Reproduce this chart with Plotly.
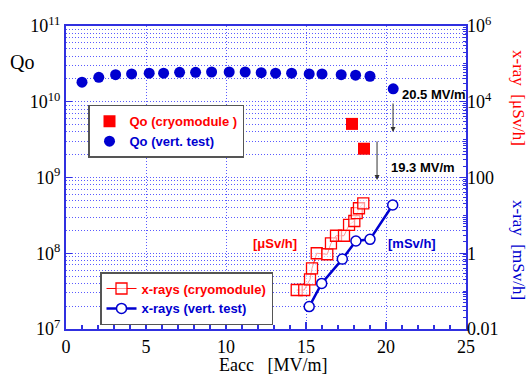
import plotly.graph_objects as go

# ---------------- data ----------------
qo_vt_x = [1.0, 2.05, 3.1, 4.1, 5.2, 6.1, 7.1, 8.1, 9.1, 10.2, 11.2, 12.2, 13.1, 14.1, 15.2, 16.0, 17.2, 18.1, 19.0, 20.45]
qo_vt_y = [1.81e10, 2.10e10, 2.28e10, 2.33e10, 2.38e10, 2.38e10, 2.45e10, 2.45e10, 2.47e10, 2.47e10,
           2.47e10, 2.42e10, 2.38e10, 2.38e10, 2.33e10, 2.33e10, 2.28e10, 2.24e10, 2.17e10, 1.48e10]

qo_cm_x = [17.875, 18.625]
qo_cm_y = [5.1e9, 2.4e9]

xr_cm_x = [14.42, 14.89, 15.25, 15.375, 15.67, 16.33, 16.56, 16.875, 17.375, 17.69, 18.02, 18.17, 18.31, 18.58]
xr_cm_y = [0.107, 0.107, 0.205, 0.40, 1.0, 0.94, 1.83, 2.9, 2.9, 5.6, 7.1, 11.4, 15.4, 20.8]

xr_vt_x = [15.2, 15.98, 17.27, 18.12, 19.0, 20.42]
xr_vt_y = [0.039, 0.16, 0.70, 2.1, 2.33, 18.8]

left_tickvals = [1e7, 1e8, 1e9, 1e10, 1e11]
left_ticktext = ["10<sup>7</sup>", "10<sup>8</sup>", "10<sup>9</sup>", "10<sup>10</sup>", "10<sup>11</sup>"]
right_tickvals = [0.01, 1, 100, 1e4, 1e6]
right_ticktext = ["0.01", "1", "100", "10<sup>4</sup>", "10<sup>6</sup>"]

RED = "#ff0000"
BLUE = "#0000d0"
SERIF = "Liberation Serif"
SANS = "Liberation Sans"

fig = go.Figure()

fig.add_trace(go.Scatter(
    x=qo_cm_x, y=qo_cm_y, mode="markers",
    name="<span style='color:#ff0000'>Qo (cryomodule )</span>",
    marker=dict(symbol="square", size=12, color=RED),
    legend="legend", legendgroup="a"))
fig.add_trace(go.Scatter(
    x=qo_vt_x, y=qo_vt_y, mode="markers",
    name="<span style='color:#0000d0'>Qo (vert. test)</span>",
    marker=dict(symbol="circle", size=11, color=BLUE),
    legend="legend", legendgroup="b"))

fig.add_trace(go.Scatter(
    x=xr_cm_x, y=xr_cm_y, mode="lines+markers", yaxis="y2",
    name="<span style='color:#ff0000'>x-rays (cryomodule)</span>",
    line=dict(color=RED, width=1),
    marker=dict(symbol="square", size=11, color="rgba(255,255,255,0.6)",
                line=dict(color=RED, width=1.3)),
    legend="legend2", legendgroup="c"))
fig.add_trace(go.Scatter(
    x=xr_vt_x, y=xr_vt_y, mode="lines+markers", yaxis="y2",
    name="<span style='color:#0000d0'>x-rays (vert. test)</span>",
    line=dict(color=BLUE, width=2.5),
    marker=dict(symbol="circle", size=10, color="white",
                line=dict(color=BLUE, width=1.5)),
    legend="legend2", legendgroup="d"))

grid_col = "#5a5aff"
grid_dash = "1px,2px"
frame_col = "#3030e0"

fig.update_layout(
    width=529, height=374,
    margin=dict(l=66, r=63, t=26, b=45),
    paper_bgcolor="white", plot_bgcolor="white",
    font=dict(family=SERIF, size=17, color="black"),
    xaxis=dict(
        range=[0, 25], dtick=5, tick0=0,
        showline=True, linecolor=frame_col, linewidth=2, mirror=True,
        ticks="inside", ticklen=7, tickcolor=frame_col, tickwidth=1.5,
        showgrid=True, gridcolor=grid_col, griddash=grid_dash, gridwidth=1,
        zeroline=False,
        tickfont=dict(family=SERIF, size=18, color="black"),
        minor=dict(dtick=1, ticks="inside", ticklen=4, tickcolor=frame_col, showgrid=False),
    ),
    yaxis=dict(
        type="log", range=[7, 11],
        tickmode="array", tickvals=left_tickvals, ticktext=left_ticktext,
        showline=True, linecolor=frame_col, linewidth=2, mirror=True,
        ticks="inside", ticklen=6, tickcolor=frame_col,
        showgrid=True, gridcolor=grid_col, griddash=grid_dash, gridwidth=1,
        zeroline=False,
        tickfont=dict(family=SERIF, size=18, color="black"),
        minor=dict(dtick="D1", ticks="", showgrid=True, gridcolor=grid_col, griddash=grid_dash, gridwidth=1),
    ),
    yaxis2=dict(
        type="log", range=[-2, 6], overlaying="y", side="right",
        tickmode="array", tickvals=right_tickvals, ticktext=right_ticktext,
        showline=False,
        ticks="inside", ticklen=6, tickcolor=frame_col,
        showgrid=False, zeroline=False,
        tickfont=dict(family=SERIF, size=18, color="black"),
        minor=dict(dtick="D1", ticks="inside", ticklen=3, tickcolor=frame_col, showgrid=False),
    ),
    legend=dict(
        x=0.055, y=0.74, xanchor="left", yanchor="top",
        bgcolor="white", bordercolor="#555555", borderwidth=1.5,
        font=dict(family=SANS, size=13, color="black", weight="bold"),
        tracegroupgap=0, itemwidth=30,
    ),
    legend2=dict(
        x=0.085, y=0.188, xanchor="left", yanchor="top",
        bgcolor="white", bordercolor="#555555", borderwidth=1.5,
        font=dict(family=SANS, size=13, color="black", weight="bold"),
        tracegroupgap=0, itemwidth=30,
    ),
    showlegend=True,
)


def px_x(p):
    return (p - 66) / 400


def px_y(p):
    return (329 - p) / 303


annots = [
    dict(text="Qo", x=px_x(22), y=px_y(62)),
    dict(text="Eacc\u00a0\u00a0\u00a0[MV/m]", x=px_x(273), y=px_y(365)),
    dict(text="x-ray\u00a0\u00a0[μSv/h]", x=px_x(519), y=px_y(98), textangle=90,
         font=dict(family=SERIF, size=17, color=RED)),
    dict(text="x-ray\u00a0\u00a0[mSv/h]", x=px_x(519), y=px_y(250), textangle=90,
         font=dict(family=SERIF, size=17, color=BLUE)),
    dict(text="20.5 MV/m", x=px_x(400), y=px_y(94), xanchor="left",
         font=dict(family=SANS, size=13, color="black", weight="bold")),
    dict(text="19.3 MV/m", x=px_x(389), y=px_y(167), xanchor="left",
         font=dict(family=SANS, size=13, color="black", weight="bold")),
    dict(text="[μSv/h]", x=px_x(275), y=px_y(243),
         font=dict(family=SANS, size=13, color=RED, weight="bold")),
    dict(text="[mSv/h]", x=px_x(412), y=px_y(243),
         font=dict(family=SANS, size=13, color=BLUE, weight="bold")),
]
for a in annots:
    a.setdefault("xanchor", "center")
    a.setdefault("yanchor", "middle")
    a.setdefault("font", dict(family=SERIF, size=20 if a["text"] == "Qo" else 18, color="black"))
    a.update(xref="paper", yref="paper", showarrow=False)

# arrows (data coords; log axis uses log10 values)
annots += [
    dict(x=20.44, y=9.60, ax=20.44, ay=9.997, xref="x", yref="y", axref="x", ayref="y",
         showarrow=True, arrowhead=2, arrowsize=1, arrowwidth=1, arrowcolor="#333333", text=""),
    dict(x=19.44, y=8.967, ax=19.44, ay=9.495, xref="x", yref="y", axref="x", ayref="y",
         showarrow=True, arrowhead=2, arrowsize=1, arrowwidth=1, arrowcolor="#333333", text=""),
]
fig.update_layout(annotations=annots)

fig.write_html("out.html")
